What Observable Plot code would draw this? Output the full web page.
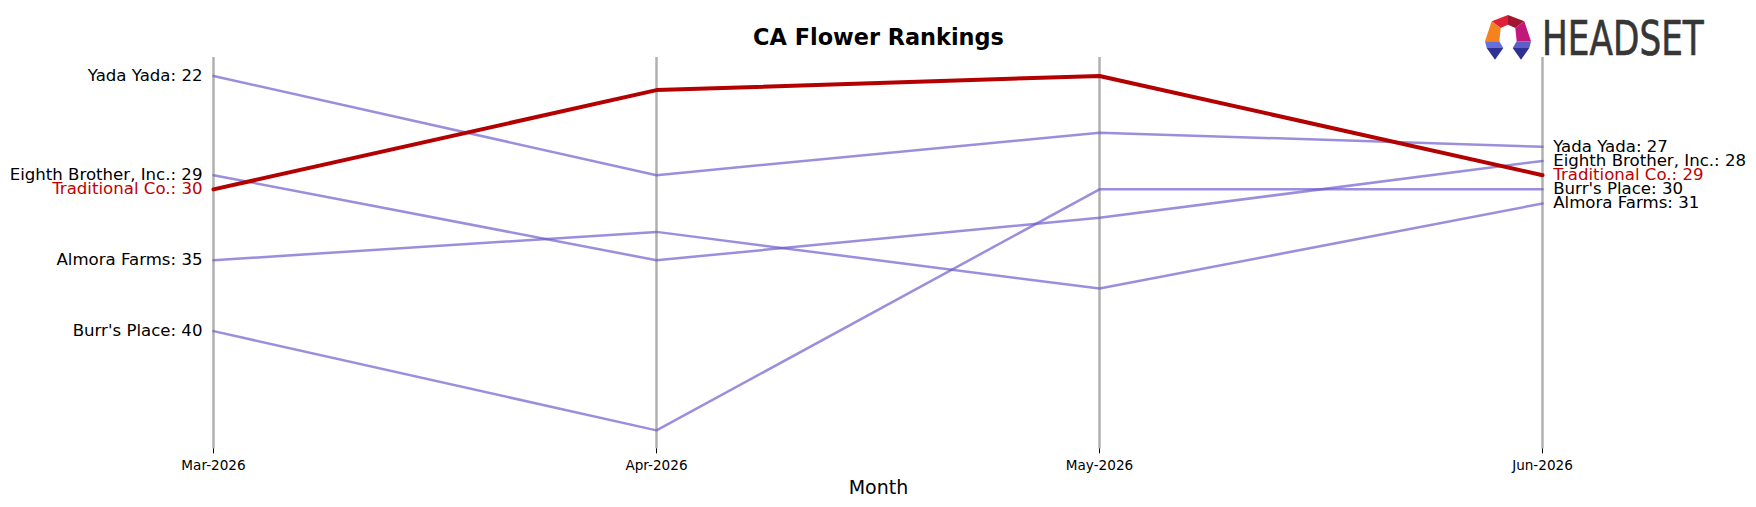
<!DOCTYPE html>
<html>
<head>
<meta charset="utf-8">
<script src="https://cdn.jsdelivr.net/npm/d3@7"></script>
<script src="https://cdn.jsdelivr.net/npm/@observablehq/plot@0.6"></script>
<style>
  html, body { margin: 0; padding: 0; background: #ffffff; }
  #wrap { position: relative; width: 1756px; height: 507px; overflow: hidden; }
  #logo { position: absolute; left: 1485px; top: 15px; }
</style>
</head>
<body>
<div id="wrap">
  <div id="chart"></div>
  <svg id="logo" width="240" height="46" viewBox="0 0 240 46">
    <polygon points="23,0 6.7,6.3 15.7,13 23,9.7" fill="#e0203a"/>
    <polygon points="23,0 39.3,6.3 30.3,13 23,9.7" fill="#a3162f"/>
    <polygon points="6.7,6.3 0,26.3 14.3,26.3 15.7,13" fill="#f6821f"/>
    <polygon points="39.3,6.3 46,26.3 31.7,26.3 30.3,13" fill="#c2187a"/>
    <polygon points="0,26.3 1.7,33 18.3,33 14.3,26.3" fill="#6670d8"/>
    <polygon points="1.7,33 10,44.7 18.3,33" fill="#2e3192"/>
    <polygon points="46,26.3 44.3,33 27.7,33 31.7,26.3" fill="#5d5fc9"/>
    <polygon points="44.3,33 36,44.7 27.7,33" fill="#2e3192"/>
    <text transform="translate(57,40) scale(0.715,1)" x="0" y="0" font-family="DejaVu Sans" font-size="48" fill="#363636" stroke="#363636" stroke-width="0.7">HEADSET</text>
  </svg>
</div>
<script>
// ---- data ----
const months = ["Mar-2026", "Apr-2026", "May-2026", "Jun-2026"];
const brands = ["Yada Yada", "Eighth Brother, Inc.", "Traditional Co.", "Almora Farms", "Burr's Place"];
const yadaYada      = [22, 29, 26, 27];
const eighthBrother = [29, 35, 32, 28];
const traditional   = [30, 23, 22, 29];
const almoraFarms   = [35, 33, 37, 31];
const burrsPlace    = [40, 47, 30, 30];
const highlight = "Traditional Co.";
const chartTitle = "CA Flower Rankings";
const xLabel = "Month";

const seriesValues = [yadaYada, eighthBrother, traditional, almoraFarms, burrsPlace];
const series = brands.map((b, i) => ({brand: b, values: seriesValues[i]}));
const rows = series.flatMap(s => s.values.map((r, j) => ({brand: s.brand, month: months[j], rank: r})));
const others = rows.filter(d => d.brand !== highlight);
const hi = rows.filter(d => d.brand === highlight);

const purple = "#6a5acd";
const red = "#b30000";
const redText = "#c00000";
const first = months[0], last = months[months.length - 1];

const chart = Plot.plot({
  width: 1756,
  height: 507,
  marginTop: 57,
  marginBottom: 58.7,
  marginLeft: 212.7,
  marginRight: 212.7,
  style: {fontFamily: "DejaVu Sans", fontSize: "16px", background: "#ffffff", color: "#000"},
  x: {type: "point", domain: months, padding: 0},
  y: {domain: [20.7, 48.3], reverse: true, axis: null},
  marks: [
    Plot.ruleX(months, {stroke: "#b0b0b0", strokeWidth: 2.5}),
    Plot.axisX({tickSize: 5, tickPadding: 6.5, fontSize: 13.6, label: null, stroke: "#000", strokeWidth: 1}),
    Plot.line(others, {x: "month", y: "rank", z: "brand", stroke: purple, strokeOpacity: 0.68, strokeWidth: 2.5}),
    Plot.line(hi, {x: "month", y: "rank", z: "brand", stroke: red, strokeWidth: 4}),
    Plot.text(series, {
      x: () => first, y: d => d.values[0],
      text: d => `${d.brand}: ${d.values[0]}`,
      textAnchor: "end", dx: -11, dy: -0.5, lineAnchor: "middle", fontSize: 16.6,
      fill: d => d.brand === highlight ? redText : "#000"
    }),
    Plot.text(series, {
      x: () => last, y: d => d.values[d.values.length - 1],
      text: d => `${d.brand}: ${d.values[d.values.length - 1]}`,
      textAnchor: "start", dx: 10.7, dy: -0.5, lineAnchor: "middle", fontSize: 16.6,
      fill: d => d.brand === highlight ? redText : "#000"
    }),
    Plot.text([chartTitle], {frameAnchor: "top", lineAnchor: "bottom", dy: -12.5, fontSize: 22.4, fontWeight: "bold", fill: "#000"}),
    Plot.text([xLabel], {frameAnchor: "bottom", lineAnchor: "bottom", dy: 44.7, fontSize: 19, fill: "#000"})
  ]
});
document.getElementById("chart").appendChild(chart);
</script>
</body>
</html>
